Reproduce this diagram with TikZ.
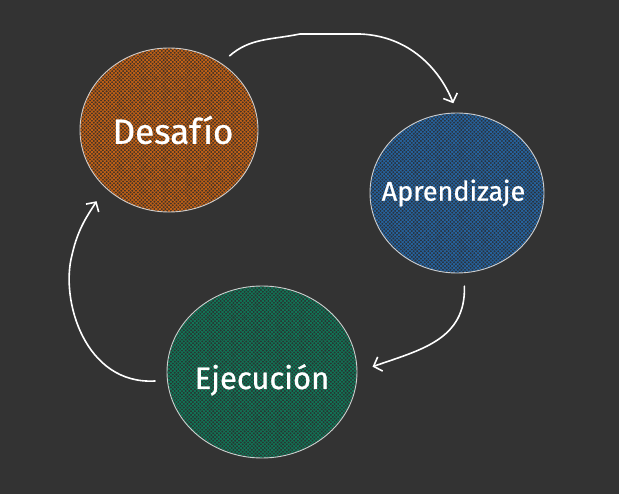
\documentclass[tikz,border=0pt]{standalone}
\usepackage{fontspec}
\setmainfont{Fira Sans}
\newfontfamily\lblfont[FakeBold=0.8]{Fira Sans}
\usetikzlibrary{shapes.geometric,patterns.meta,arrows.meta}
\definecolor{bg}{RGB}{51,51,51}
\definecolor{outl}{RGB}{205,205,205}
\definecolor{desbase}{RGB}{66,50,38}
\definecolor{deshatch}{RGB}{196,98,22}
\definecolor{aprbase}{RGB}{42,50,60}
\definecolor{aprhatch}{RGB}{38,100,160}
\definecolor{ejebase}{RGB}{40,52,48}
\definecolor{ejehatch}{RGB}{18,118,88}
\tikzset{
  blob/.style n args={2}{ellipse, draw=outl, line width=0.9pt, text=white, inner sep=0pt,
    preaction={fill=#1},
    preaction={pattern={Lines[angle=45,distance=2.6pt,line width=0.8pt]}, pattern color=#2},
    preaction={pattern={Lines[angle=-45,distance=2.6pt,line width=0.8pt]}, pattern color=#2}},
  sketch/.style={draw=white, line width=1.6pt, line cap=round, line join=round,
    -{Straight Barb[length=7pt,width=15pt,line width=1.6pt]}}
}
\begin{document}
\begin{tikzpicture}[x=1pt,y=-1pt]
\fill[bg] (0,0) rectangle (619,494);
\useasboundingbox (0,0) rectangle (619,494);
\node[blob={desbase}{deshatch}, minimum width=178pt, minimum height=164pt, font=\lblfont\fontsize{35}{39}\selectfont] (des) at (169,130) {\makebox[0pt]{\hspace{8pt}Desafío}};
\node[blob={aprbase}{aprhatch}, minimum width=174pt, minimum height=160pt, font=\lblfont\fontsize{27}{31}\selectfont] (apr) at (457,193) {\makebox[0pt]{Aprendizaje\hspace{7pt}}};
\node[blob={ejebase}{ejehatch}, minimum width=190pt, minimum height=172pt, text height=34pt, text depth=0pt, font=\lblfont\fontsize{31}{35}\selectfont] (eje) at (262,372) {\makebox[0pt]{Ejecución}};
\draw[sketch, shorten <=11pt, shorten >=10pt] (des.52) .. controls (250,38) and (270,40) .. (300,34)
  -- (360,34) .. controls (410,36) and (440,70) .. (apr.north);
\draw[sketch, shorten <=13pt, shorten >=16pt] (apr.-85) .. controls (466,340) and (420,350) .. (eje.east);
\draw[sketch, shorten <=12pt, shorten >=16pt] (eje.185) .. controls (85,385) and (60,300) .. (72,255)
  .. controls (78,228) and (88,215) .. (des.222);
\end{tikzpicture}
\end{document}
